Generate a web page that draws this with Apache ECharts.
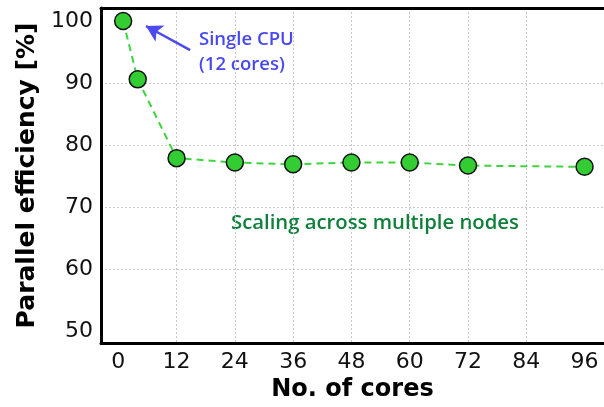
<!DOCTYPE html>
<html>
<head>
<meta charset="utf-8">
<script src="https://cdn.jsdelivr.net/npm/echarts@6/dist/echarts.min.js"></script>
<style>html,body{margin:0;padding:0;background:#fff;overflow:hidden;}#c{width:604px;height:407px;}</style>
</head>
<body>
<div id="c"></div>
<script>
const cores = [1, 4, 12, 24, 36, 48, 60, 72, 96];
const efficiency = [100, 90.6, 77.9, 77.2, 76.9, 77.2, 77.2, 76.7, 76.5];
const xTicks = [0, 12, 24, 36, 48, 60, 72, 84, 96];
const yTicks = [50, 60, 70, 80, 90, 100];
const xTitle = 'No. of cores';
const yTitle = 'Parallel efficiency [%]';
const noteCpu = 'Single CPU\n(12 cores)';
const noteNodes = 'Scaling across multiple nodes';

const chart = echarts.init(document.getElementById('c'), null, {renderer: 'canvas'});
const tickFont = {fontFamily: 'DejaVu Sans', fontSize: 22, color: '#111'};
chart.setOption({
  animation: false,
  grid: {left: 101, right: 0, top: 8, bottom: 61},
  xAxis: [{
    type: 'value', min: -3.56, max: 100,
    name: xTitle, nameLocation: 'middle', nameGap: 35,
    nameTextStyle: {fontFamily: 'DejaVu Sans', fontSize: 24, fontWeight: 'bold', color: '#000', padding: [0, 0, 0, 0]},
    axisLine: {show: true, onZero: false, lineStyle: {color: '#000', width: 3}},
    axisTick: {show: false, customValues: xTicks},
    axisLabel: Object.assign({customValues: xTicks, margin: 8}, tickFont),
    splitLine: {show: true, showMinLine: false, showMaxLine: false, lineStyle: {color: '#c8c8c8', type: [2, 2], width: 1}}
  }, {
    type: 'value', position: 'top', min: -3.56, max: 100,
    axisLine: {show: true, onZero: false, lineStyle: {color: '#000', width: 3}},
    axisTick: {show: false}, axisLabel: {show: false}, splitLine: {show: false}
  }],
  yAxis: {
    type: 'value', min: 48.1, max: 102.1,
    name: yTitle, nameLocation: 'middle', nameGap: 60,
    nameTextStyle: {fontFamily: 'DejaVu Sans', fontSize: 25, fontWeight: 'bold', color: '#000'},
    axisLine: {show: true, onZero: false, lineStyle: {color: '#000', width: 3}},
    axisTick: {show: false, customValues: yTicks},
    axisLabel: Object.assign({customValues: yTicks, margin: 8}, tickFont),
    splitLine: {show: true, showMinLine: false, showMaxLine: false, lineStyle: {color: '#c8c8c8', type: [2, 2], width: 1}}
  },
  series: [{
    type: 'line',
    data: cores.map((c, i) => [c, efficiency[i]]),
    symbol: 'circle', symbolSize: 17,
    lineStyle: {color: '#3fd43f', width: 2, type: [7, 5]},
    itemStyle: {color: '#33cc33', borderColor: '#111', borderWidth: 1.5},
    z: 3,
    markLine: {
      silent: true, symbol: ['none', 'arrow'], symbolSize: [14, 16],
      label: {show: false},
      lineStyle: {color: '#4a4aef', width: 2.5, type: 'solid'},
      data: [[{coord: [14.8, 95.3]}, {coord: [5.7, 99.2]}]]
    }
  }],
  graphic: [{
    type: 'text', left: 199, top: 27,
    style: {text: noteCpu, fill: '#4848f2', font: '600 18.5px "Open Sans"', lineHeight: 25}
  }, {
    type: 'text', left: 231, top: 213,
    style: {text: noteNodes, fill: '#0f7f3a', font: '600 20.3px "Open Sans"'}
  }]
});
</script>
</body>
</html>
